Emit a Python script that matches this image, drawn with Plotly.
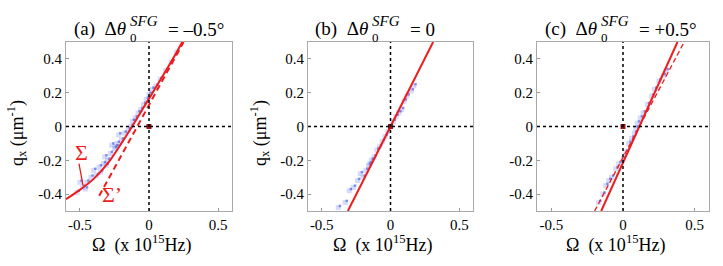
import plotly.graph_objects as go

# ---------------- data ----------------
# panel (a): solid curve Sigma and dashed line Sigma'
a_sigma_x = [-0.6, -0.5, -0.4, -0.3, -0.2, -0.1, 0.0, 0.1, 0.2, 0.24]
a_sigma_y = [-0.43, -0.375, -0.31, -0.22, -0.10, 0.03, 0.165, 0.30, 0.44, 0.50]
a_sigp_x = [-0.36, 0.25]
a_sigp_y = [-0.41, 0.50]
a_data_x = [-0.52, -0.48, -0.50, -0.45, -0.42, -0.38, -0.40, -0.35, -0.33, -0.30, -0.32, -0.28,
            -0.25, -0.27, -0.23, -0.20, -0.22, -0.18, -0.15, -0.13, -0.12, -0.10, -0.08, -0.06,
            -0.04, -0.02, 0.00, 0.02, 0.05, 0.08, 0.12, 0.16, 0.20, -0.36, -0.31, -0.24, -0.46]
a_data_y = [-0.39, -0.36, -0.33, -0.33, -0.30, -0.29, -0.26, -0.27, -0.22, -0.20, -0.18, -0.16,
            -0.13, -0.11, -0.10, -0.08, -0.05, -0.04, -0.02, 0.00, 0.03, 0.05, 0.08, 0.10,
            0.13, 0.16, 0.19, 0.22, 0.24, 0.28, 0.33, 0.38, 0.44, -0.24, -0.23, -0.12, -0.37]

# panel (b): fitted line and data
b_line_x = [-0.31, 0.31]
b_line_y = [-0.50, 0.50]
b_data_x = [-0.38, -0.33, -0.30, -0.27, -0.24, -0.20, -0.18, -0.15, -0.16, -0.12, -0.10, -0.08,
            -0.06, -0.04, -0.02, 0.00, 0.02, 0.04, 0.06, 0.08, 0.10, 0.12, 0.15, 0.17, -0.14, -0.22]
b_data_y = [-0.48, -0.45, -0.38, -0.36, -0.32, -0.30, -0.26, -0.22, -0.23, -0.18, -0.14, -0.12,
            -0.09, -0.06, -0.03, 0.00, 0.03, 0.06, 0.08, 0.10, 0.15, 0.18, 0.21, 0.24, -0.20, -0.28]

# panel (c): solid and dashed lines and data
c_solid_x = [-0.152, 0.38]
c_solid_y = [-0.50, 0.50]
c_dash_x = [-0.198, 0.427]
c_dash_y = [-0.50, 0.50]
c_data_x = [-0.17, -0.14, -0.12, -0.10, -0.08, -0.05, -0.03, 0.00, 0.02, 0.04, 0.06, 0.08,
            0.09, 0.10, 0.12, 0.14, 0.17, 0.20, 0.22, 0.25, 0.28, 0.30]
c_data_y = [-0.45, -0.40, -0.35, -0.32, -0.30, -0.25, -0.22, -0.19, -0.15, -0.10, -0.07, -0.04,
            -0.01, 0.02, 0.05, 0.08, 0.13, 0.18, 0.22, 0.27, 0.30, 0.33]

x_tickvals = [-0.5, 0, 0.5]
x_ticktext = ["-0.5", "0", "0.5"]
y_tickvals = [-0.4, -0.2, 0, 0.2, 0.4]
y_ticktext = ["-0.4", "-0.2", "0", "0.2", "0.4"]

titles = [("(a)", "= \u20130.5\u00b0"), ("(b)", "= 0"), ("(c)", "= +0.5\u00b0")]

# ---------------- layout geometry ----------------
W, H = 723, 266
xdoms = [(66 / W, 232 / W), (308 / W, 473 / W), (537 / W, 709 / W)]
ydom = (1 - 211 / H, 1 - 42 / H)
FONT = "Liberation Serif, Times New Roman, serif"
RED = "#ee1c1c"
BLUE = "rgba(60,90,240,0.22)"
BLUE_D = "rgba(20,40,210,0.45)"

fig = go.Figure()

def sc(x, y, k, **kw):
    ax = "" if k == 1 else str(k)
    fig.add_trace(go.Scatter(x=x, y=y, xaxis="x" + ax, yaxis="y" + ax,
                             showlegend=False, hoverinfo="skip", **kw))

# data clouds
for k, (dx, dy) in enumerate([(a_data_x, a_data_y), (b_data_x, b_data_y), (c_data_x, c_data_y)], 1):
    sc(dx, dy, k, mode="markers",
       marker=dict(symbol="square", size=5, color=BLUE, line=dict(width=0)))
    sc([v + 0.012 for v in dx], [v + 0.01 for v in dy], k, mode="markers",
       marker=dict(symbol="square", size=2.5, color=BLUE_D, line=dict(width=0)))

# lines
sc(a_sigp_x, a_sigp_y, 1, mode="lines", line=dict(color=RED, width=2, dash="6px,4px"))
sc(a_sigma_x, a_sigma_y, 1, mode="lines", line=dict(color=RED, width=2, shape="spline"))
sc(b_line_x, b_line_y, 2, mode="lines", line=dict(color=RED, width=2))
sc(c_dash_x, c_dash_y, 3, mode="lines", line=dict(color=RED, width=1.3, dash="5px,3px"))
sc(c_solid_x, c_solid_y, 3, mode="lines", line=dict(color=RED, width=2))

# red origin dots
for k in (1, 2, 3):
    sc([0], [0], k, mode="markers", marker=dict(symbol="square", size=5, color="#a01010"))

layout = dict(width=W, height=H, margin=dict(l=0, r=0, t=0, b=0, pad=0, autoexpand=False),
              paper_bgcolor="white", plot_bgcolor="white", showlegend=False,
              font=dict(family=FONT, color="black"))
shapes = []
annotations = []


def ann(x, y, text, size, xanchor="center", **kw):
    d = dict(xref="paper", yref="paper", x=x / W, y=1 - y / H, text=text, showarrow=False,
             xanchor=xanchor, yanchor="middle", font=dict(family=FONT, size=size))
    d.update(kw)
    annotations.append(d)


for i in range(3):
    k = i + 1
    ax = "" if k == 1 else str(k)
    common = dict(ticks="inside", ticklen=3, tickcolor="#999",
                  showline=True, mirror=True, linecolor="#aaa", linewidth=1,
                  showgrid=False, zeroline=False, automargin=False,
                  tickfont=dict(family=FONT, size=15))
    layout["xaxis" + ax] = dict(domain=list(xdoms[i]), range=[-0.6, 0.6], anchor="y" + ax,
                                tickvals=x_tickvals, ticktext=x_ticktext, **common)
    layout["yaxis" + ax] = dict(domain=list(ydom), range=[-0.5, 0.5], anchor="x" + ax,
                                tickvals=y_tickvals, ticktext=y_ticktext, **common)
    # dotted zero lines
    shapes.append(dict(type="line", xref="x" + ax, yref="y" + ax + " domain",
                       x0=0, x1=0, y0=0, y1=1, line=dict(color="black", width=1.5, dash="dot")))
    shapes.append(dict(type="line", xref="x" + ax + " domain", yref="y" + ax,
                       x0=0, x1=1, y0=0, y1=0, line=dict(color="black", width=1.5, dash="dot")))
    # x-axis title
    xc = (xdoms[i][0] + xdoms[i][1]) / 2 * W - 8
    ann(xc, 244, "\u03a9  (x 10<sup>15</sup>Hz)", 18)
    # title pieces
    lab, rhs = titles[i]
    x0 = xdoms[i][0] * W + 4
    ann(x0 + 58, 29, lab + "  \u0394<i>\u03b8</i>", 19, xanchor="right")
    ann(x0 + 58, 21, "<i>SFG</i>", 15, xanchor="left")
    ann(x0 + 58, 37, "0", 13, xanchor="left")
    ann(x0 + 96, 29, rhs, 19, xanchor="left")

# y-axis titles for (a) and (b)
for xpx in (16, 259):
    ann(xpx, 133, "q<sub>x</sub> (\u03bcm<sup>-1</sup>)", 18, textangle=-90)

# Sigma labels in (a)
annotations.append(dict(xref="x", yref="y", x=-0.488, y=-0.155, text="\u03a3", showarrow=False,
                        xanchor="center", yanchor="middle",
                        font=dict(family=FONT, size=22, color=RED)))
annotations.append(dict(xref="x", yref="y", x=-0.265, y=-0.405, text="\u03a3\u2019", showarrow=False,
                        xanchor="center", yanchor="middle",
                        font=dict(family=FONT, size=22, color=RED)))
shapes.append(dict(type="line", xref="x", yref="y", x0=-0.506, y0=-0.22, x1=-0.477, y1=-0.35,
                   line=dict(color=RED, width=1.3)))

layout["shapes"] = shapes
layout["annotations"] = annotations
fig.update_layout(**layout)
fig.write_html("out.html", config={"displayModeBar": False},
               post_script="document.body.style.margin='0px';")
